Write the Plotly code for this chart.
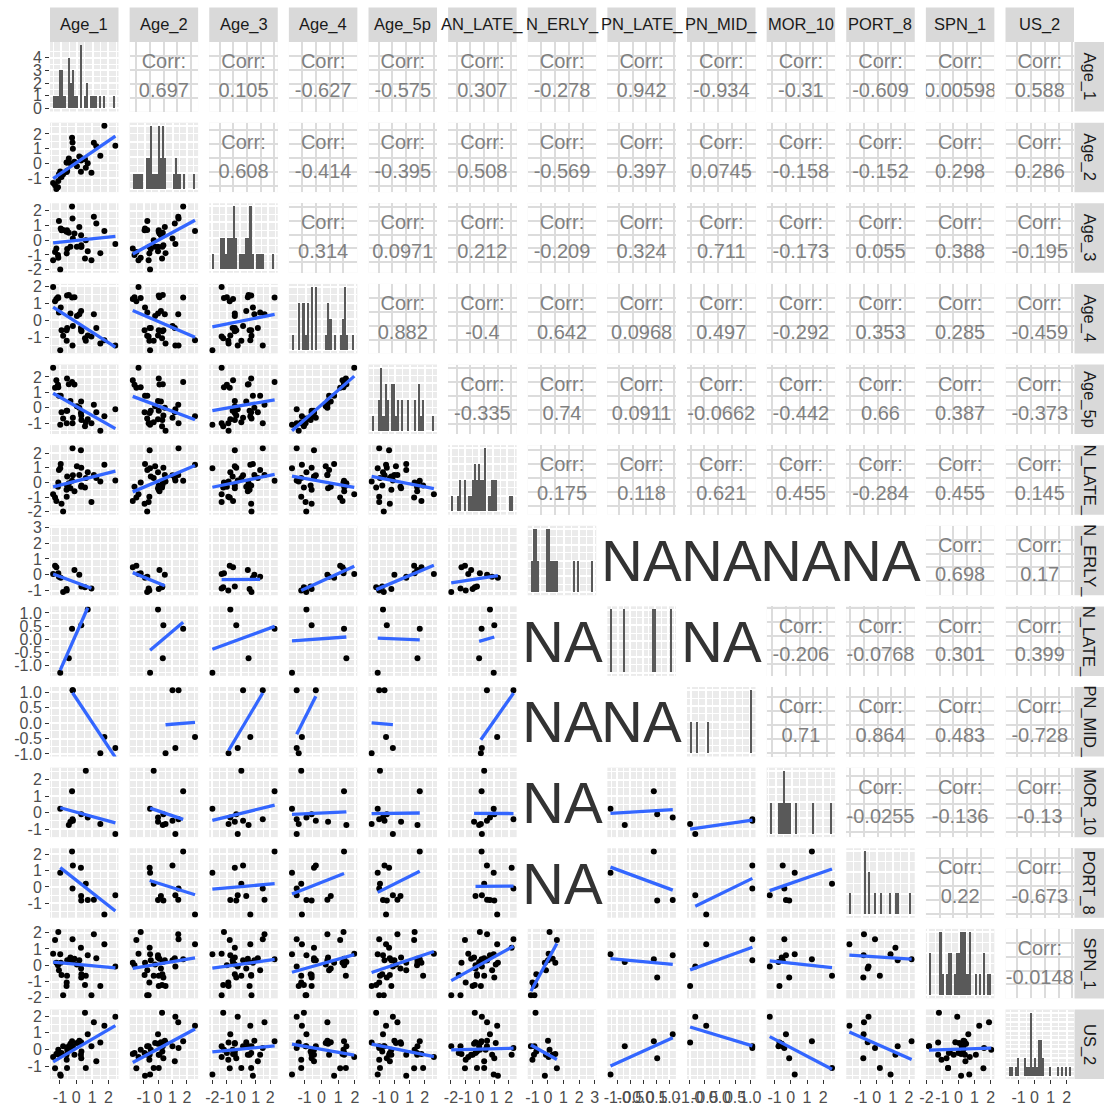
import math
import numpy as np
import plotly.graph_objects as go

nan = float("nan")

# ---- survey scores (standardised), one entry per respondent; nan = not answered ----
age_1 = [-1.42, -1.30, -1.22, -1.12, -1.10, -1.06, -0.98, -0.95, -0.90, -0.80,
         -0.59, -0.58, -0.56, -0.55, -0.45, -0.35, -0.25, -0.22, -0.20, -0.10,
         0.05, 0.20, 0.30, 0.31, 0.32, 0.33, 0.55, 0.60, 0.72, 0.95,
         1.10, 1.25, 1.50, 1.75, 2.43, nan, nan, nan]
age_2 = [-1.35, -1.50, -1.75, -1.63, -1.20, -0.74, -0.55, -0.90, -0.93, -0.75,
         0.05, -0.60, 0.05, -0.50, 0.33, 0.00, 1.74, 1.42, 1.00, 0.10,
         -0.20, 0.47, -0.58, 0.20, 0.37, 0.30, 0.28, -0.30, 0.00, -0.65,
         1.40, 1.16, 0.52, 2.56, 1.20, nan, nan, nan]
age_3 = [-1.36, -0.80, -0.57, -1.00, -1.20, 1.30, -2.00, 0.80, 0.68, 0.70,
         0.57, -0.90, 0.68, -0.60, 0.50, -0.45, 2.30, 1.48, 0.12, 0.45,
         -0.45, 0.90, -0.45, 0.34, -0.35, -0.45, -1.25, 0.00, -0.76, -1.36,
         1.60, 1.14, -0.88, 0.62, -0.25, nan, nan, nan]
age_4 = [1.96, 1.12, 1.26, 1.36, 1.32, 0.46, -1.75, 0.76, -0.58, -0.90,
         -0.58, -1.20, 1.46, -0.44, 1.49, 0.40, 1.35, -1.47, -0.33, 1.36,
         0.26, 0.36, -0.44, 0.56, -0.58, -0.64, -1.04, -1.20, -0.89, -0.94,
         0.36, -0.44, -1.35, -1.16, -1.47, nan, nan, nan]
age_5p = [2.60, 1.30, 1.78, 1.49, 1.33, 0.78, -1.10, 0.78, -0.30, -0.70,
          -0.20, -1.00, 1.89, -0.20, 1.52, 0.44, 1.67, -1.00, -0.65, 1.50,
          0.10, 0.00, -0.35, 0.40, -0.50, -0.80, -1.20, -0.95, -0.75, -1.00,
          0.20, -0.30, -1.50, -0.55, -0.10, nan, nan, nan]
an_late = [-0.80, -1.03, -1.27, -0.30, 0.00, 0.85, 0.96, 1.25, -1.46, -1.98,
           -0.50, -0.98, -0.20, 0.40, -0.05, -0.40, 0.12, 2.33, 0.49, -0.60,
           1.10, 0.50, 2.20, -0.30, 1.00, -0.20, -0.35, 0.30, 0.70, -1.34,
           0.50, 0.30, 0.07, 1.20, 0.14, nan, nan, nan]
pn_erly = [0.04, 0.57, 0.47, nan, 0.10, -0.13, nan, -0.20, nan, -1.10,
           -0.90, -1.00, nan, nan, nan, nan, nan, nan, nan, 0.30,
           nan, 0.00, nan, nan, nan, -0.75, -0.80, nan, nan, -0.87,
           nan, nan, nan, nan, nan, 1.70, 1.96, 2.90]
pn_late = [nan, nan, nan, nan, nan, nan, -1.27, nan, nan, nan,
           nan, nan, nan, nan, -0.72, nan, 0.40, nan, nan, nan,
           nan, nan, nan, nan, 0.53, nan, nan, nan, 1.13, nan,
           nan, nan, nan, nan, nan, nan, nan, nan]
pn_mid = [nan, nan, nan, nan, nan, nan, nan, nan, nan, nan,
          nan, nan, nan, nan, nan, nan, nan, 1.07, 1.07, nan,
          nan, nan, nan, nan, nan, nan, nan, nan, nan, nan,
          nan, nan, -0.98, -0.45, -0.81, nan, nan, nan]
mor_10 = [nan, nan, nan, nan, nan, nan, 0.24, nan, nan, nan,
          nan, nan, nan, nan, -0.76, -0.56, 1.30, -0.40, -0.50, nan,
          nan, nan, nan, nan, -0.10, nan, nan, 2.54, -0.30, nan,
          nan, nan, -0.70, nan, -1.30, nan, nan, nan]
port_8 = [nan, nan, nan, nan, nan, nan, 0.86, nan, nan, nan,
          nan, nan, nan, nan, nan, nan, 2.16, -0.10, 1.30, nan,
          nan, nan, 1.16, -0.55, -0.82, nan, nan, 0.20, -0.80, nan,
          -0.78, nan, nan, -1.68, -0.50, nan, nan, nan]
spn_1 = [0.70, 1.55, 0.16, 0.00, 2.04, -0.30, 0.67, 0.16, -0.60, -1.84,
         -1.27, -1.06, -0.65, 0.30, 0.20, 0.47, 0.37, 1.59, 0.30, 0.40,
         0.04, 0.31, 1.08, -0.20, -0.75, -0.55, -1.22, -0.65, 0.61, -1.84,
         1.90, 0.43, -1.27, 1.29, -0.08, nan, nan, nan]
us_2 = [-0.43, -1.10, -0.25, -0.20, 0.00, -0.30, -1.47, -1.55, -0.20, 0.20,
        -0.30, -0.60, -1.08, 0.00, 0.20, 0.35, 0.50, 0.10, 0.20, -0.30,
        0.40, 0.53, -0.30, 0.45, -0.50, -0.10, 2.20, -1.08, 0.92, 0.20,
        1.63, -0.69, 0.43, 1.43, 1.96, nan, nan, nan]

variables = [age_1, age_2, age_3, age_4, age_5p, an_late, pn_erly,
             pn_late, pn_mid, mor_10, port_8, spn_1, us_2]

col_labels = ["Age_1", "Age_2", "Age_3", "Age_4", "Age_5p", "AN_LATE_", "N_ERLY_",
              "PN_LATE_", "PN_MID_", "MOR_10", "PORT_8", "SPN_1", "US_2"]
row_labels = ["Age_1", "Age_2", "Age_3", "Age_4", "Age_5p", "N_LATE_", "N_ERLY_",
              "N_LATE_", "PN_MID_", "MOR_10", "PORT_8", "SPN_1", "US_2"]

tick_values = [
    [-1, 0, 1, 2], [-1, 0, 1, 2], [-2, -1, 0, 1, 2], [-1, 0, 1, 2], [-1, 0, 1, 2],
    [-2, -1, 0, 1, 2], [-1, 0, 1, 2, 3], [-1.0, -0.5, 0.0, 0.5, 1.0],
    [-1.0, -0.5, 0.0, 0.5, 1.0], [-1, 0, 1, 2], [-1, 0, 1, 2], [-2, -1, 0, 1, 2],
    [-1, 0, 1, 2],
]
count_ticks_age_1 = [0, 1, 2, 3, 4]

# printed correlation for every cell above the diagonal (None = not computable)
corr_labels = [
    ["0.697", "0.105", "-0.627", "-0.575", "0.307", "-0.278", "0.942", "-0.934", "-0.31", "-0.609", "0.00598", "0.588"],
    ["0.608", "-0.414", "-0.395", "0.508", "-0.569", "0.397", "0.0745", "-0.158", "-0.152", "0.298", "0.286"],
    ["0.314", "0.0971", "0.212", "-0.209", "0.324", "0.711", "-0.173", "0.055", "0.388", "-0.195"],
    ["0.882", "-0.4", "0.642", "0.0968", "0.497", "-0.292", "0.353", "0.285", "-0.459"],
    ["-0.335", "0.74", "0.0911", "-0.0662", "-0.442", "0.66", "0.387", "-0.373"],
    ["0.175", "0.118", "0.621", "0.455", "-0.284", "0.455", "0.145"],
    [None, None, None, None, "0.698", "0.17"],
    [None, "-0.206", "-0.0768", "0.301", "0.399"],
    ["0.71", "0.864", "0.483", "-0.728"],
    ["-0.0255", "-0.136", "-0.13"],
    ["0.22", "-0.673"],
    ["-0.0148"],
]

# ---- page geometry (pixels) ----
W, H = 1107, 1108
N = len(variables)
X0, PW, PX = 50.0, 68.5, 79.625
Y0, PH, PY = 42.0, 69.5, 80.625
STRIP_T = (7.5, 42.0)
STRIP_R = (1074.5, 1104.0)
FONT = "Liberation Sans, Arial, sans-serif"
GREY_BG = "#EBEBEB"


def xdom(c):
    left = X0 + c * PX
    return [left / W, (left + PW) / W]


def ydom(r):
    top = Y0 + r * PY
    return [1 - (top + PH) / H, 1 - top / H]


def padded(lo, hi, frac=0.05):
    span = hi - lo
    return [lo - frac * span, hi + frac * span]


def tick_text(vals):
    if all(float(v).is_integer() for v in vals):
        return [str(int(v)) for v in vals]
    return [f"{v:.1f}" for v in vals]


def minor_of(ticks, rng):
    step = ticks[1] - ticks[0]
    cand = [t + step / 2 for t in ticks[:-1]] + [ticks[0] - step / 2, ticks[-1] + step / 2]
    return [t for t in cand if rng[0] <= t <= rng[1]]


def hist_bins(a):
    # 30 bins, centred on multiples of the bin width
    v = a[~np.isnan(a)]
    lo, hi = float(v.min()), float(v.max())
    w = (hi - lo) / 29
    origin = w / 2 + math.floor((lo - w / 2) / w) * w
    edges = [origin]
    while edges[-1] < hi:
        edges.append(edges[-1] + w)
    counts, _ = np.histogram(v, bins=edges)
    return np.array(edges), counts, w


arr = [np.array(v, dtype=float) for v in variables]
var_range = [padded(float(np.nanmin(a)), float(np.nanmax(a))) for a in arr]
var_mid = [float((np.nanmin(a) + np.nanmax(a)) / 2) for a in arr]

fig = go.Figure()
layout_axes = {}
shapes = []
annotations = []

label_font = dict(size=16, color="#4D4D4D", family=FONT)
na_font = dict(size=58, color="#333333", family=FONT)


def axis_dict(domain, anchor, rng, ticks, show_labels, grid, minor_ticks=None,
              grid_color="white", minor_color="white"):
    d = dict(domain=domain, anchor=anchor, range=rng, zeroline=False, showline=False,
             automargin=False, fixedrange=True, tickangle=0, tickfont=label_font,
             layer="below traces", tickmode="array", tickvals=ticks,
             ticktext=tick_text(ticks))
    if grid:
        d.update(showgrid=True, gridcolor=grid_color, gridwidth=1.7)
        if minor_ticks:
            d["minor"] = dict(tickmode="array", tickvals=minor_ticks, showgrid=True,
                              gridcolor=minor_color, gridwidth=0.8, ticks="")
    else:
        d.update(showgrid=False)
    if show_labels:
        d.update(showticklabels=True, ticks="outside", ticklen=4, tickwidth=1.1,
                 tickcolor="#333333")
    else:
        d.update(showticklabels=False, ticks="")
    return d


def white_panel(xr, yr):
    shapes.append(dict(type="rect", xref=xr + " domain", yref=yr + " domain",
                       x0=0, x1=1, y0=0, y1=1, fillcolor="white",
                       line=dict(width=0), layer="below"))


def na_label(r, c):
    xd, yd = xdom(c), ydom(r)
    annotations.append(dict(text="NA", xref="paper", yref="paper",
                            x=(xd[0] + xd[1]) / 2, y=(yd[0] + yd[1]) / 2,
                            xanchor="center", yanchor="middle",
                            showarrow=False, font=na_font))


for r in range(N):
    for c in range(N):
        k = r * N + c + 1
        sfx = "" if k == 1 else str(k)
        xr, yr = "x" + sfx, "y" + sfx
        xa, ya = "xaxis" + sfx, "yaxis" + sfx
        show_x = (r == N - 1)
        show_y = (c == 0)

        if r == c:
            # diagonal: histogram of the variable
            edges, counts, w = hist_bins(arr[c])
            centers = (edges[:-1] + edges[1:]) / 2
            xrng = padded(float(edges[0]), float(edges[-1]))
            top = int(counts.max())
            yrng = [-0.05 * top, 1.05 * top]
            if r == 0:
                yt = count_ticks_age_1
            else:
                step = 1 if top >= 3 else (0.5 if top == 2 else 0.25)
                yt = [float(v) for v in np.arange(0, top + 1e-9, step)]
            fig.add_trace(go.Bar(x=centers, y=counts, width=w, xaxis=xr, yaxis=yr,
                                 marker=dict(color="#595959", line=dict(width=0)),
                                 showlegend=False, hoverinfo="skip"))
            xt = tick_values[c]
            layout_axes[xa] = axis_dict(xdom(c), yr, xrng, xt, show_x, True, minor_of(xt, xrng))
            layout_axes[ya] = axis_dict(ydom(r), xr, yrng, yt, show_y, True, minor_of(yt, yrng))

        elif r > c:
            # below the diagonal: scatter with a least-squares line
            xs, ys = arr[c], arr[r]
            ok = ~np.isnan(xs) & ~np.isnan(ys)
            xrng, yrng = var_range[c], var_range[r]
            xt, yt = tick_values[c], tick_values[r]
            if ok.sum() == 0:
                white_panel(xr, yr)
                na_label(r, c)
                layout_axes[xa] = axis_dict(xdom(c), yr, xrng, xt, show_x, False)
                layout_axes[ya] = axis_dict(ydom(r), xr, yrng, yt, show_y, False)
            else:
                px_, py_ = xs[ok], ys[ok]
                fig.add_trace(go.Scatter(x=px_, y=py_, mode="markers", xaxis=xr, yaxis=yr,
                                         marker=dict(size=6, color="black"),
                                         showlegend=False, hoverinfo="skip"))
                if ok.sum() >= 2:
                    slope, icpt = np.polyfit(px_, py_, 1)
                    lx = np.array([px_.min(), px_.max()])
                    fig.add_trace(go.Scatter(x=lx, y=icpt + slope * lx, mode="lines",
                                             xaxis=xr, yaxis=yr,
                                             line=dict(color="#3366FF", width=3.3),
                                             showlegend=False, hoverinfo="skip"))
                layout_axes[xa] = axis_dict(xdom(c), yr, xrng, xt, show_x, True, minor_of(xt, xrng))
                layout_axes[ya] = axis_dict(ydom(r), xr, yrng, yt, show_y, True, minor_of(yt, yrng))

        else:
            # above the diagonal: printed correlation
            label = corr_labels[r][c - r - 1]
            white_panel(xr, yr)
            cx, cy = var_mid[c], var_mid[r]
            xrng, yrng = [cx - 0.5, cx + 0.5], [cy - 0.5, cy + 0.5]
            xt = [round(v, 1) for v in np.arange(math.ceil(xrng[0] / 0.2) * 0.2, xrng[1], 0.2)]
            yt = [round(v, 1) for v in np.arange(math.ceil(yrng[0] / 0.2) * 0.2, yrng[1], 0.2)]
            if label is None:
                na_label(r, c)
                layout_axes[xa] = axis_dict(xdom(c), yr, xrng, xt, False, False)
                layout_axes[ya] = axis_dict(ydom(r), xr, yrng, yt, False, False)
            else:
                fig.add_trace(go.Scatter(x=[cx, cx], y=[cy + 0.195, cy - 0.22], mode="text",
                                         text=["Corr:", label], xaxis=xr, yaxis=yr,
                                         textposition="middle center", cliponaxis=True,
                                         textfont=dict(size=20, color="#808080", family=FONT),
                                         showlegend=False, hoverinfo="skip"))
                layout_axes[xa] = axis_dict(xdom(c), yr, xrng, xt, False, True,
                                            grid_color="#DCDCDC")
                layout_axes[ya] = axis_dict(ydom(r), xr, yrng, yt, False, True,
                                            grid_color="#DCDCDC")

# ---- facet strips ----
strip_font = dict(size=16.5, color="#1A1A1A", family=FONT)
for c in range(N):
    x0, x1 = xdom(c)
    shapes.append(dict(type="rect", xref="paper", yref="paper", x0=x0, x1=x1,
                       y0=1 - STRIP_T[1] / H, y1=1 - STRIP_T[0] / H,
                       fillcolor="#D9D9D9", line=dict(width=0), layer="below"))
    annotations.append(dict(text=col_labels[c], xref="paper", yref="paper",
                            x=(x0 + x1) / 2, y=1 - (STRIP_T[0] + STRIP_T[1]) / 2 / H,
                            showarrow=False, xanchor="center", yanchor="middle",
                            font=strip_font))
for r in range(N):
    y0, y1 = ydom(r)
    shapes.append(dict(type="rect", xref="paper", yref="paper",
                       x0=STRIP_R[0] / W, x1=STRIP_R[1] / W, y0=y0, y1=y1,
                       fillcolor="#D9D9D9", line=dict(width=0), layer="below"))
    annotations.append(dict(text=row_labels[r], xref="paper", yref="paper",
                            x=(STRIP_R[0] + STRIP_R[1]) / 2 / W, y=(y0 + y1) / 2,
                            showarrow=False, textangle=90, xanchor="center", yanchor="middle",
                            font=strip_font))

fig.update_layout(
    width=W, height=H, margin=dict(l=0, r=0, t=0, b=0),
    paper_bgcolor="white", plot_bgcolor=GREY_BG,
    showlegend=False, shapes=shapes, annotations=annotations,
    font=dict(family=FONT), bargap=0,
    **layout_axes,
)

fig.write_html("out.html")
